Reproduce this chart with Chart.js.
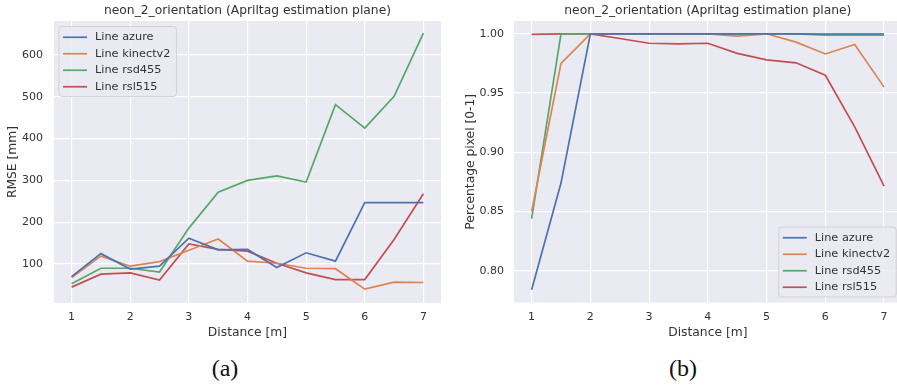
<!DOCTYPE html>
<html>
<head>
<meta charset="utf-8">
<script src="https://cdn.jsdelivr.net/npm/chart.js@4/dist/chart.umd.min.js"></script>
<style>
  html, body { margin: 0; padding: 0; background: #ffffff; overflow: hidden; }
  body { width: 897px; height: 387px; position: relative; }
  canvas { position: absolute; top: 0; }
  #rmse { left: 0; }
  #pct { left: 450px; }
  .cap { position: absolute; top: 354px; line-height: 28px; font-family: "Liberation Serif", "DejaVu Serif", serif; font-size: 24px; color: #111; transform: translateX(-50%); }
</style>
</head>
<body>
<canvas id="rmse" width="450" height="345"></canvas>
<canvas id="pct" width="455" height="345"></canvas>
<div class="cap" style="left:225px">(a)</div>
<div class="cap" style="left:683px">(b)</div>
<script>
// Distances at which each sensor was evaluated
const distances = [1, 1.5, 2, 2.5, 3, 3.5, 4, 4.5, 5, 5.5, 6, 6.5, 7];
const seriesNames = ['Line azure', 'Line kinectv2', 'Line rsd455', 'Line rsl515'];

// RMSE of the estimated plane [mm]
const rmseAzure   = [70, 125, 88, 95, 162, 134, 135, 92, 127, 107, 247, 247, 247];
const rmseKinect  = [68, 119, 95, 106, 133, 160, 107, 102, 90, 89, 40, 57, 56];
const rmseRsd455  = [53, 90, 90, 81, 186, 272, 300, 311, 296, 481, 425, 501, 652];
const rmseRsl515  = [45, 76, 79, 62, 148, 135, 131, 102, 79, 63, 63, 159, 268];

// Share of valid pixels [0-1]
const pctAzure  = [0.784, 0.874, 1, 1, 1, 1, 1, 1, 1, 1, 0.999, 0.999, 0.999];
const pctKinect = [0.85, 0.975, 1, 1, 1, 1, 1, 0.998, 1, 0.993, 0.983, 0.991, 0.955];
const pctRsd455 = [0.844, 1, 1, 1, 1, 1, 1, 1, 1, 1, 1, 1, 1];
const pctRsl515 = [0.9995, 1, 1, 0.996, 0.992, 0.9915, 0.992, 0.9835, 0.978, 0.9755, 0.965, 0.9215, 0.8715];

// Tick labels
const xTicks = [1, 2, 3, 4, 5, 6, 7];
const rmseTicks = [100, 200, 300, 400, 500, 600];
const pctTicks = [0.80, 0.85, 0.90, 0.95, 1.00];

const palette = ['#4C72B0', '#DD8452', '#55A868', '#C44E52'];
const textColor = '#333333';
const fontFamily = '"DejaVu Sans", sans-serif';
const chartTitle = 'neon_2_orientation (Apriltag estimation plane)';

function makeDatasets(valueLists) {
  return valueLists.map((vals, i) => ({
    label: seriesNames[i],
    data: distances.map((d, k) => ({ x: d, y: vals[k] })),
    borderColor: palette[i],
    backgroundColor: palette[i],
    borderWidth: 1.7,
    pointRadius: 0,
    tension: 0,
    fill: false
  }));
}

// Plot background, title and an in-axes legend box
const decorPlugin = {
  id: 'decor',
  beforeDraw(chart) {
    const { ctx, chartArea: a } = chart;
    ctx.save();
    ctx.fillStyle = '#EAEAF2';
    ctx.fillRect(a.left, a.top, a.right - a.left, a.bottom - a.top);
    ctx.restore();
  },
  afterDraw(chart, args, opts) {
    const { ctx, chartArea: a } = chart;
    ctx.save();
    ctx.fillStyle = textColor;
    ctx.font = '12.3px ' + fontFamily;
    ctx.textAlign = 'center';
    ctx.textBaseline = 'middle';
    ctx.fillText(chartTitle, (a.left + a.right) / 2, a.top - 10);

    // legend
    ctx.font = '11.3px ' + fontFamily;
    let maxW = 0;
    chart.data.datasets.forEach(ds => { maxW = Math.max(maxW, ctx.measureText(ds.label).width); });
    const rowH = 16.5;
    const boxW = 36 + maxW + 6;
    const boxH = rowH * chart.data.datasets.length + 4;
    let bx, by;
    if (opts.corner === 'upper left') {
      bx = a.left + 5; by = a.top + 5.5;
    } else {
      bx = a.right - 5.5 - boxW; by = a.bottom - 5.5 - boxH;
    }
    const r = 3;
    ctx.beginPath();
    ctx.moveTo(bx + r, by);
    ctx.arcTo(bx + boxW, by, bx + boxW, by + boxH, r);
    ctx.arcTo(bx + boxW, by + boxH, bx, by + boxH, r);
    ctx.arcTo(bx, by + boxH, bx, by, r);
    ctx.arcTo(bx, by, bx + boxW, by, r);
    ctx.closePath();
    ctx.fillStyle = 'rgba(234,234,242,0.8)';
    ctx.fill();
    ctx.strokeStyle = 'rgba(204,204,204,0.8)';
    ctx.lineWidth = 1;
    ctx.stroke();

    ctx.textAlign = 'left';
    chart.data.datasets.forEach((ds, i) => {
      const cy = by + 2 + rowH * (i + 0.5) + 0.5;
      ctx.strokeStyle = ds.borderColor;
      ctx.lineWidth = 1.7;
      ctx.beginPath();
      ctx.moveTo(bx + 4, cy);
      ctx.lineTo(bx + 28, cy);
      ctx.stroke();
      ctx.fillStyle = textColor;
      ctx.fillText(ds.label, bx + 36, cy);
    });
    ctx.restore();
  }
};

function makeChart(canvasId, valueLists, cfg) {
  return new Chart(document.getElementById(canvasId), {
    type: 'line',
    data: { datasets: makeDatasets(valueLists) },
    plugins: [decorPlugin],
    options: {
      responsive: false,
      animation: false,
      devicePixelRatio: 1,
      layout: { padding: { top: 21, right: cfg.padRight, bottom: 0, left: 0 } },
      plugins: {
        legend: { display: false },
        title: { display: false },
        tooltip: { enabled: false },
        decor: { corner: cfg.corner }
      },
      scales: {
        x: {
          type: 'linear',
          min: 0.7,
          max: 7.3,
          afterBuildTicks: s => { s.ticks = xTicks.map(v => ({ value: v })); },
          afterFit: s => { s.height = cfg.xHeight; },
          grid: { color: '#ffffff', lineWidth: 1.2, drawTicks: false },
          border: { display: false },
          ticks: { color: textColor, font: { family: fontFamily, size: 11 }, padding: 8, maxRotation: 0,
                   callback: v => String(v) },
          title: { display: true, text: 'Distance [m]', color: textColor,
                   font: { family: fontFamily, size: 12.3 }, padding: { top: 0, bottom: 5 } }
        },
        y: {
          type: 'linear',
          min: cfg.yMin,
          max: cfg.yMax,
          afterBuildTicks: s => { s.ticks = cfg.yTicks.map(v => ({ value: v })); },
          afterFit: s => { s.width = cfg.yWidth; },
          grid: { color: '#ffffff', lineWidth: 1.2, drawTicks: false },
          border: { display: false },
          ticks: { color: textColor, font: { family: fontFamily, size: 11 }, padding: cfg.tickPad,
                   callback: cfg.fmt },
          title: { display: true, text: cfg.yTitle, color: textColor,
                   font: { family: fontFamily, size: 12.3 }, padding: { top: cfg.titlePad, bottom: 0 } }
        }
      }
    }
  });
}

makeChart('rmse', [rmseAzure, rmseKinect, rmseRsd455, rmseRsl515], {
  corner: 'upper left', padRight: 9, xHeight: 42, yWidth: 54, tickPad: 11, titlePad: 5,
  yMin: 7, yMax: 681, yTicks: rmseTicks, yTitle: 'RMSE [mm]', fmt: v => String(v)
});

makeChart('pct', [pctAzure, pctKinect, pctRsd455, pctRsl515], {
  corner: 'lower right', padRight: 3.3, xHeight: 42.5, yWidth: 64, tickPad: 10, titlePad: 13,
  yMin: 0.7732, yMax: 1.0108, yTicks: pctTicks, yTitle: 'Percentage pixel [0-1]', fmt: v => v.toFixed(2)
});
</script>
</body>
</html>
